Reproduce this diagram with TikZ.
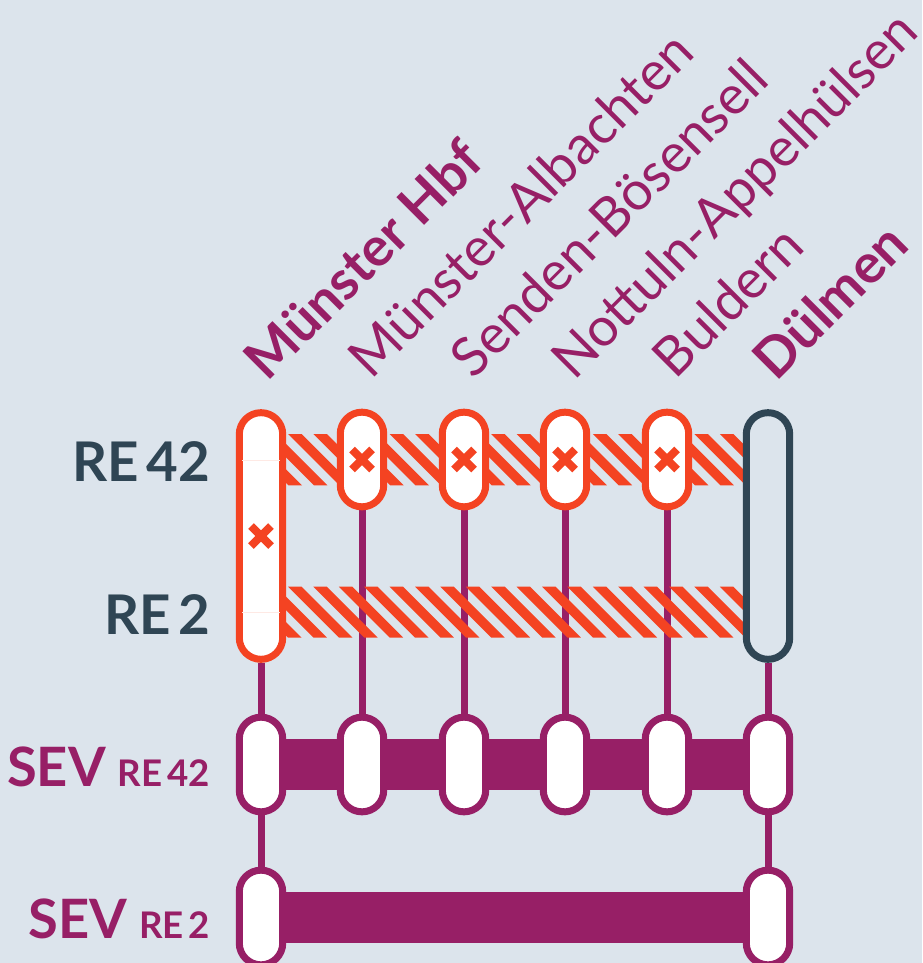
\documentclass[tikz,border=0pt]{standalone}
\usepackage{fontspec}
\setmainfont{Lato}
\usetikzlibrary{calc}
\definecolor{bgc}{HTML}{DCE4EC}
\definecolor{org}{HTML}{F44322}
\definecolor{pur}{HTML}{971F66}
\definecolor{drk}{HTML}{2F4554}
\pgfdeclarelayer{bg}\pgfdeclarelayer{hatch}
\pgfsetlayers{bg,hatch,main}
\tikzset{
 pill/.style={rectangle,draw,fill=white,line width=5.25pt,minimum width=32.6pt,inner sep=0pt,rounded corners=16.3pt},
 short/.style={pill,minimum height=71pt},
 long/.style={pill,minimum height=185pt},
 cross/.style={draw=org,line width=6pt,line cap=butt},
 link/.style={draw=pur,line width=5.25pt},
 bar/.style={draw=pur,line width=38pt},
 station/.style={rotate=45,anchor=base west,inner sep=0pt,font=\fontsize{40.5}{41}\selectfont,text=pur},
 rowlab/.style={anchor=base east,inner sep=0pt},
}
\newcommand{\nsp}{\hskip .13em\relax}
\newcommand{\stripes}[2]{%
 \foreach \k in {-3,...,18}{%
  \fill[org] ({288+25.4*\k},#1) -- ({301.5+25.4*\k},#1) -- ({301.5+25.4*\k+#2-#1},#2) -- ({288+25.4*\k+#2-#1},#2) -- cycle;}}
\begin{document}
\begin{tikzpicture}[x=.75pt,y=-.75pt]
\useasboundingbox (0,0) rectangle (922,963);
\begin{pgfonlayer}{bg}
\clip (0,0) rectangle (922,963);
\fill[bgc] (0,0) rectangle (922,963);
\end{pgfonlayer}
\clip (0,0) rectangle (922,963);
% top row
\node[long,draw=org] (a1) at (261,536) {};
\node[short,draw=org] (b2) at (362,459.5) {};
\node[short,draw=org] (b3) at (464,459.5) {};
\node[short,draw=org] (b4) at (565,459.5) {};
\node[short,draw=org] (b5) at (667,459.5) {};
\node[long,draw=drk,fill=bgc] (a6) at (768,536) {};
% SEV RE 42
\node[short,draw=pur] (c1) at (261,764.5) {};
\node[short,draw=pur] (c2) at (362,764.5) {};
\node[short,draw=pur] (c3) at (464,764.5) {};
\node[short,draw=pur] (c4) at (565,764.5) {};
\node[short,draw=pur] (c5) at (667,764.5) {};
\node[short,draw=pur] (c6) at (768,764.5) {};
% SEV RE 2
\node[short,draw=pur] (d1) at (261,917.5) {};
\node[short,draw=pur] (d6) at (768,917.5) {};
% faint lines in long pill
\draw[org!12,line width=.75pt] (242,460) -- (280,460) (242,612) -- (280,612);
% crosses
\foreach \p in {b2,b3,b4,b5,a1}{
 \draw[cross] ($(\p)+(-10,-10)$) -- ($(\p)+(10,10)$);
 \draw[cross] ($(\p)+(-10,10)$) -- ($(\p)+(10,-10)$);
}
\begin{pgfonlayer}{bg}
\path[link] (a1.south) -- (c1.north) (c1.south) -- (d1.north)
 (a6.south) -- (c6.north) (c6.south) -- (d6.north)
 (b2.south) -- (c2.north) (b3.south) -- (c3.north) (b4.south) -- (c4.north) (b5.south) -- (c5.north);
\path[bar] (c1) -- (c6);
\path[bar] (d1) -- (d6);
\end{pgfonlayer}
\begin{pgfonlayer}{hatch}
\begin{scope}
\clip (270,434) rectangle (746,485.3);
\stripes{434}{485.3}
\end{scope}
\begin{scope}
\clip (270,586.7) rectangle (746,637.5);
\stripes{586.7}{637.5}
\end{scope}
\end{pgfonlayer}
% station labels
\node[station,font=\fontsize{40.7}{41}\selectfont\bfseries] (s1) at (267.5,383) {Münster Hbf};
\node[station] (s2) at (371.6,380.6) {Münster-Albachten};
\node[station] (s3) at (473.2,380.6) {Senden-Bösensell};
\node[station,font=\fontsize{40.2}{41}\selectfont] (s4) at (574,381.4) {Nottuln-Appelhülsen};
\node[station] (s5) at (675.6,380.4) {Buldern};
\node[station,font=\fontsize{41}{41}\selectfont\bfseries] (s6) at (776,383) {Dülmen};
% row labels
\node[rowlab,text=drk,font=\fontsize{41}{41}\selectfont\bfseries] (r1) at (210,481.5) {RE\nsp 42};
\node[rowlab,text=drk,font=\fontsize{41}{41}\selectfont\bfseries] (r2) at (210,634) {RE\nsp 2};
\node[rowlab,text=pur,font=\bfseries] (r3) at (210,786.7) {\fontsize{40.7}{41}\selectfont SEV\hskip 9pt\fontsize{27.5}{27}\selectfont RE\nsp 42};
\node[rowlab,text=pur,font=\bfseries] (r4) at (210,938.5) {\fontsize{40.7}{41}\selectfont SEV\hskip 9pt\fontsize{27.5}{27}\selectfont RE\nsp 2};
\end{tikzpicture}
\end{document}
